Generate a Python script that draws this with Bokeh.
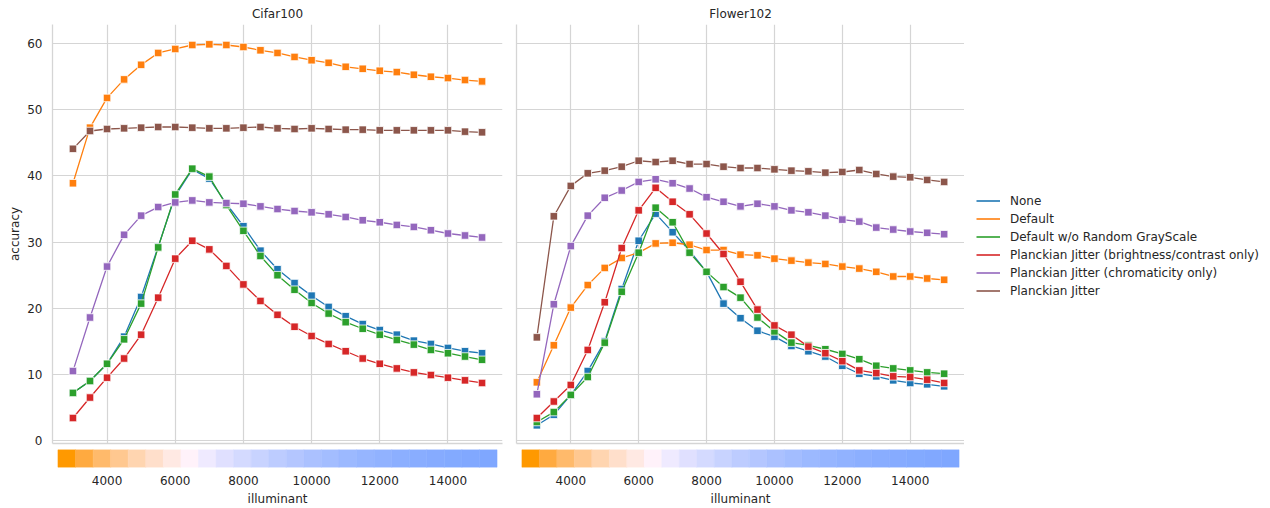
from bokeh.plotting import figure
from bokeh.layouts import row, column
from bokeh.models import Range1d, FixedTicker, Legend, LegendItem
from bokeh.embed import file_html
from bokeh.resources import INLINE

illuminant = [3000, 3500, 4000, 4500, 5000, 5500, 6000, 6500, 7000, 7500, 8000, 8500, 9000,
              9500, 10000, 10500, 11000, 11500, 12000, 12500, 13000, 13500, 14000, 14500, 15000]

series_names = ["None", "Default", "Default w/o Random GrayScale",
                "Planckian Jitter (brightness/contrast only)",
                "Planckian Jitter (chromaticity only)", "Planckian Jitter"]
series_colors = ["#1f77b4", "#ff7f0e", "#2ca02c", "#d62728", "#9467bd", "#8c564b"]

cifar_none = [7.2, 9.0, 11.6, 15.7, 21.7, 29.3, 37.0, 41.0, 39.6, 35.8, 32.4, 28.7, 25.9,
              23.8, 21.9, 20.2, 18.8, 17.6, 16.7, 16.0, 15.1, 14.6, 14.0, 13.5, 13.2]
cifar_default = [38.9, 47.3, 51.8, 54.6, 56.8, 58.6, 59.2, 59.8, 59.9, 59.8, 59.5, 59.0, 58.6,
                 58.0, 57.5, 57.1, 56.5, 56.2, 55.9, 55.7, 55.3, 55.0, 54.8, 54.5, 54.3]
cifar_nogray = [7.2, 9.0, 11.6, 15.3, 20.7, 29.2, 37.2, 41.1, 39.9, 35.6, 31.7, 27.9, 25.0,
                22.8, 20.8, 19.2, 17.9, 16.9, 16.0, 15.2, 14.5, 13.7, 13.2, 12.7, 12.2]
cifar_bc = [3.4, 6.5, 9.5, 12.4, 16.0, 21.6, 27.5, 30.2, 28.9, 26.4, 23.6, 21.1, 19.0,
            17.2, 15.8, 14.6, 13.5, 12.4, 11.6, 10.9, 10.3, 9.9, 9.5, 9.1, 8.7]
cifar_chroma = [10.5, 18.6, 26.3, 31.1, 34.0, 35.3, 36.0, 36.3, 36.0, 35.9, 35.8, 35.4, 35.0,
                34.7, 34.5, 34.2, 33.8, 33.3, 33.0, 32.6, 32.3, 31.8, 31.3, 31.0, 30.7]
cifar_pj = [44.1, 46.8, 47.1, 47.2, 47.3, 47.4, 47.4, 47.3, 47.2, 47.2, 47.3, 47.4, 47.2,
            47.1, 47.2, 47.1, 47.0, 47.0, 46.9, 46.9, 46.9, 46.9, 46.9, 46.7, 46.6]

flower_none = [2.3, 3.9, 6.9, 10.5, 15.0, 22.9, 30.2, 34.3, 31.5, 28.7, 25.5, 20.7, 18.5,
               16.6, 15.7, 14.3, 13.5, 12.7, 11.3, 10.1, 9.7, 9.1, 8.7, 8.5, 8.2]
flower_default = [8.8, 14.4, 20.1, 23.5, 26.1, 27.6, 28.4, 29.8, 29.9, 29.6, 28.8, 28.8, 28.1,
                  28.0, 27.5, 27.2, 26.9, 26.7, 26.3, 26.0, 25.5, 24.8, 24.8, 24.5, 24.3]
flower_nogray = [2.8, 4.3, 6.9, 9.6, 14.8, 22.5, 28.4, 35.2, 33.0, 28.4, 25.5, 23.2, 21.6,
                 18.6, 16.5, 14.8, 14.4, 13.8, 13.1, 12.3, 11.3, 10.9, 10.6, 10.3, 10.1]
flower_bc = [3.4, 5.9, 8.4, 13.7, 20.9, 29.1, 34.8, 38.2, 36.1, 34.2, 31.3, 28.2, 24.0,
             19.8, 17.4, 16.0, 14.2, 13.2, 12.0, 10.6, 10.2, 9.7, 9.6, 9.2, 8.7]
flower_chroma = [7.0, 20.6, 29.4, 34.0, 36.7, 37.8, 39.1, 39.5, 38.9, 38.1, 36.8, 36.1, 35.4,
                 35.8, 35.4, 34.8, 34.5, 34.0, 33.4, 33.1, 32.2, 31.9, 31.6, 31.4, 31.2]
flower_pj = [15.6, 33.9, 38.5, 40.4, 40.8, 41.4, 42.3, 42.1, 42.3, 41.8, 41.8, 41.4, 41.2,
             41.2, 41.0, 40.8, 40.7, 40.5, 40.6, 40.9, 40.3, 39.9, 39.8, 39.4, 39.1]

cifar_series = [cifar_none, cifar_default, cifar_nogray, cifar_bc, cifar_chroma, cifar_pj]
flower_series = [flower_none, flower_default, flower_nogray, flower_bc, flower_chroma, flower_pj]

illuminant_colors = ["#ff9900", "#ffaa40", "#ffba6b", "#ffc890", "#ffd5b0", "#ffdfcb",
                     "#ffe9e3", "#fff2fa", "#efeaff", "#e0e0ff", "#d4daff", "#c8d3ff",
                     "#bdccff", "#b4c6ff", "#abc1ff", "#a3bdff", "#9cb9ff", "#96b5ff",
                     "#91b2ff", "#8cafff", "#89adff", "#86abff", "#83aaff", "#81a8ff", "#7fa7ff"]

x_ticks = [4000, 6000, 8000, 10000, 12000, 14000]
y_ticks = [0, 10, 20, 30, 40, 50, 60]
panel_titles = ["Cifar100", "Flower102"]

FONT = "DejaVu Sans"
TXT = "#262626"
GRID = "#d5d5d5"
XR = (2400, 15600)
YR = (-0.45, 62.9)
CB_EXTENT = (2560, 15440)
MAIN_H = 449
CB_H = 59


def no_ticks(ax):
    ax.major_tick_line_color = None
    ax.minor_tick_line_color = None
    ax.major_tick_out = 0
    ax.major_tick_in = 0
    ax.minor_tick_out = 0
    ax.minor_tick_in = 0


def main_fig(title, series, width, left, right, show_y):
    p = figure(width=width, height=MAIN_H, output_backend="svg", toolbar_location=None,
               x_range=Range1d(*XR), y_range=Range1d(*YR),
               min_border_left=left, min_border_right=right, min_border_top=24,
               min_border_bottom=6, title=title)
    p.title.align = "center"
    p.title.text_font = FONT
    p.title.text_font_size = "12px"
    p.title.text_font_style = "normal"
    p.title.text_color = TXT
    p.title.standoff = 8
    p.outline_line_color = None
    p.background_fill_color = "white"
    p.xaxis.ticker = FixedTicker(ticks=[])
    no_ticks(p.xaxis[0])
    p.xaxis.major_label_standoff = 0
    p.xaxis.axis_line_color = GRID
    p.xaxis.axis_line_width = 1.3
    p.xgrid.ticker = FixedTicker(ticks=x_ticks)
    p.ygrid.ticker = FixedTicker(ticks=y_ticks)
    p.xgrid.grid_line_color = GRID
    p.ygrid.grid_line_color = GRID
    p.xgrid.grid_line_width = 1.2
    p.ygrid.grid_line_width = 1.2
    p.yaxis.axis_line_color = GRID
    p.yaxis.axis_line_width = 1.3
    no_ticks(p.yaxis[0])
    if show_y:
        p.yaxis.ticker = FixedTicker(ticks=y_ticks)
        p.yaxis.major_label_text_font = FONT
        p.yaxis.major_label_text_font_size = "12px"
        p.yaxis.major_label_text_color = TXT
        p.yaxis.major_label_standoff = 10
        p.yaxis.axis_label = "accuracy"
        p.yaxis.axis_label_text_font = FONT
        p.yaxis.axis_label_text_font_size = "12px"
        p.yaxis.axis_label_text_font_style = "normal"
        p.yaxis.axis_label_text_color = TXT
        p.yaxis.axis_label_standoff = 2
    else:
        p.yaxis.ticker = FixedTicker(ticks=[])
        p.yaxis.major_label_standoff = 0
    for vals, col in zip(series, series_colors):
        p.line(illuminant, vals, line_color=col, line_width=1.3)
        p.scatter(illuminant, vals, marker="square", size=7.5, fill_color=col,
                  line_color="white", line_width=0.8)
    return p


def cbar_fig(width, left, right):
    c = figure(width=width, height=CB_H, output_backend="svg", toolbar_location=None,
               x_range=Range1d(*XR), y_range=Range1d(0, 1),
               min_border_left=left, min_border_right=right, min_border_top=0,
               min_border_bottom=41)
    c.outline_line_color = None
    c.grid.visible = False
    c.yaxis.visible = False
    n = len(illuminant_colors)
    step = (CB_EXTENT[1] - CB_EXTENT[0]) / n
    lefts = [CB_EXTENT[0] + i * step for i in range(n)]
    rights = [CB_EXTENT[0] + (i + 1) * step for i in range(n)]
    c.quad(left=lefts, right=rights, bottom=0, top=1, fill_color=illuminant_colors,
           line_color=illuminant_colors, line_width=0.5)
    c.xaxis.ticker = FixedTicker(ticks=x_ticks)
    c.xaxis.axis_line_color = None
    no_ticks(c.xaxis[0])
    c.xaxis.major_label_text_font = FONT
    c.xaxis.major_label_text_font_size = "12px"
    c.xaxis.major_label_text_color = TXT
    c.xaxis.major_label_standoff = 8
    c.xaxis.axis_label = "illuminant"
    c.xaxis.axis_label_text_font = FONT
    c.xaxis.axis_label_text_font_size = "12px"
    c.xaxis.axis_label_text_font_style = "normal"
    c.xaxis.axis_label_text_color = TXT
    c.xaxis.axis_label_standoff = 4
    return c


p1 = main_fig(panel_titles[0], cifar_series, 509, 52, 7, True)
p2 = main_fig(panel_titles[1], flower_series, 455, 7, 0, False)
c1 = cbar_fig(509, 52, 7)
c2 = cbar_fig(455, 7, 0)

# legend panel (its helper lines lie outside the visible range, only their legend glyphs show)
p3 = figure(width=306, height=MAIN_H, output_backend="svg", toolbar_location=None,
            x_range=Range1d(0, 1), y_range=Range1d(0, 1),
            min_border_left=0, min_border_right=0, min_border_top=0, min_border_bottom=0)
p3.outline_line_color = None
p3.grid.visible = False
p3.xaxis.visible = False
p3.yaxis.visible = False
dummy = [p3.line(x=[5, 6], y=[5, 6], line_color=col, line_width=1.6) for col in series_colors]
legend = Legend(items=[LegendItem(label=n, renderers=[r]) for n, r in zip(series_names, dummy)],
                location=(12, 151))
legend.border_line_color = None
legend.background_fill_alpha = 0
legend.label_text_font = FONT
legend.label_text_font_size = "12px"
legend.label_text_color = TXT
legend.glyph_width = 24
legend.glyph_height = 15
legend.label_height = 15
legend.spacing = 3
legend.label_standoff = 10
legend.margin = 0
legend.padding = 0
p3.add_layout(legend, "center")

layout = row(column(p1, c1), column(p2, c2), p3)
open("out.html", "w").write(file_html(layout, INLINE))
